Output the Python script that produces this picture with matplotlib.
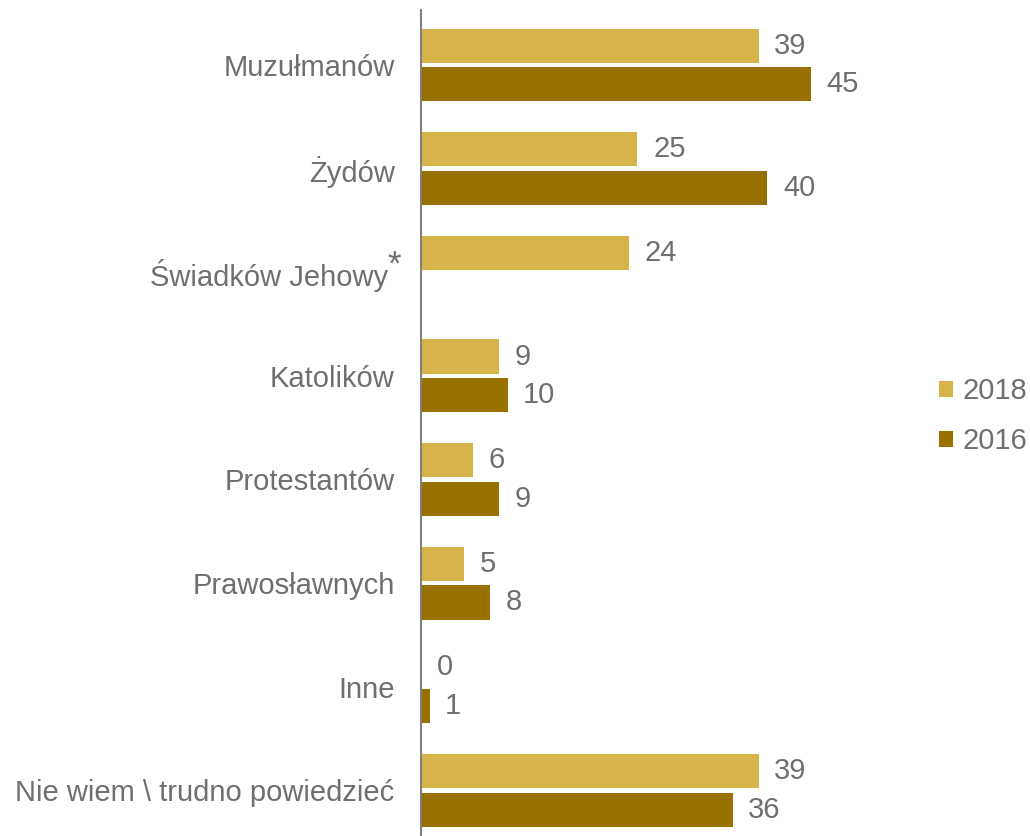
import numpy as np
import matplotlib.pyplot as plt
from matplotlib.transforms import blended_transform_factory

plt.rcParams['font.family'] = ['Liberation Sans', 'DejaVu Sans']

categories = ["Muzułmanów", "Żydów", "Świadków Jehowy", "Katolików",
              "Protestantów", "Prawosławnych", "Inne",
              "Nie wiem \\ trudno powiedzieć"]
values_2018 = [39, 25, 24, 9, 6, 5, 0, 39]
values_2016 = [45, 40, None, 10, 9, 8, 1, 36]
series_names = ["2018", "2016"]

color_2018 = "#D6B44A"
color_2016 = "#987000"
text_color = "#6F6F6F"
fs = 21

fig = plt.figure(figsize=(10.30, 8.36), dpi=100)
ax = fig.add_axes([0.4087, 0.0, 0.5045, 0.988])

y = np.arange(len(categories))
h = 0.33
off = 0.186

v16 = [np.nan if v is None else v for v in values_2016]
b18 = ax.barh(y - off, values_2018, height=h, color=color_2018, label=series_names[0])
b16 = ax.barh(y + off, v16, height=h, color=color_2016, label=series_names[1])

for yi, v in zip(y, values_2018):
    ax.text(v + 1.8, yi - off, str(v), va="center", ha="left",
            fontsize=fs, color=text_color)
for yi, v in zip(y, values_2016):
    if v is None:
        continue
    ax.text(v + 1.8, yi + off, str(v), va="center", ha="left",
            fontsize=fs, color=text_color)

ax.set_xlim(0, 60)
ax.set_ylim(7.44, -0.53)
ax.set_yticks(y)
# the label with the asterisk is drawn by hand below
labels = ["" if i == 2 else c for i, c in enumerate(categories)]
ax.set_yticklabels(labels, fontsize=fs, color=text_color)
ax.tick_params(axis="y", length=0, pad=19)
ax.set_xticks([])

for s in ["top", "right", "bottom"]:
    ax.spines[s].set_visible(False)
ax.spines["left"].set_color("#808080")
ax.spines["left"].set_linewidth(1.5)

trans = blended_transform_factory(ax.transAxes, ax.transData)
ax.annotate(categories[2], xy=(0, 2), xycoords=trans, xytext=(-24, 0),
            textcoords="offset points", ha="right", va="center_baseline",
            fontsize=fs, color=text_color, annotation_clip=False)
ax.annotate("*", xy=(0, 2), xycoords=trans, xytext=(-24, 8),
            textcoords="offset points", ha="left", va="center_baseline",
            fontsize=25, color=text_color, annotation_clip=False)

fig.legend(handles=[b18, b16], labels=series_names, loc="center left",
           bbox_to_anchor=(0.9, 0.502), frameon=False, fontsize=fs,
           labelcolor=text_color, handlelength=0.5, handleheight=0.5,
           handletextpad=0.3, labelspacing=0.75, borderaxespad=0)

fig.savefig("out.png", dpi=100)
